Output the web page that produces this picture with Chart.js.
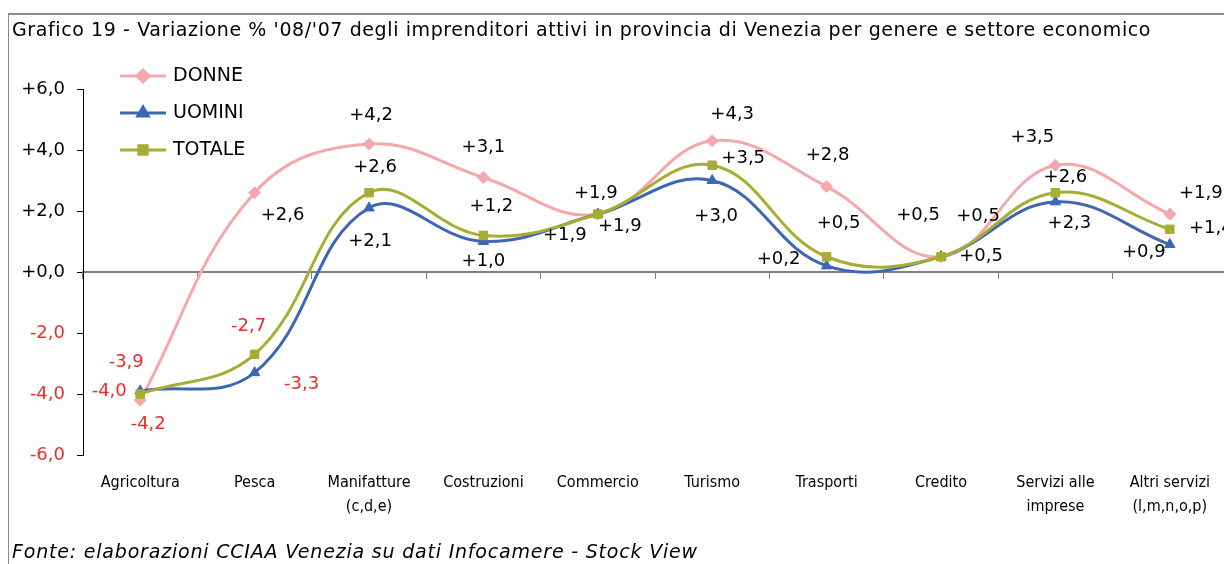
<!DOCTYPE html>
<html>
<head>
<meta charset="utf-8">
<script src="https://cdn.jsdelivr.net/npm/chart.js@4/dist/chart.umd.min.js"></script>
<style>
  html, body { margin: 0; padding: 0; background: #fff; overflow: hidden; }
  #wrap { position: relative; width: 1224px; height: 564px; overflow: hidden; }
  #box { position: absolute; left: 8px; top: 13px; width: 1300px; height: 600px;
         border-left: 1px solid #8a8a8a; border-top: 2px solid #8a8a8a; }
  #titolo { position: absolute; left: 12px; top: 18px; font: 19px "DejaVu Sans", sans-serif; letter-spacing: 0.6px; color: #000; white-space: nowrap; }
  #fonte { position: absolute; left: 12px; top: 540px; font: italic 19px "DejaVu Sans", sans-serif; letter-spacing: 0.8px; color: #000; white-space: nowrap; }
  canvas { position: absolute; left: 0; top: 0; }
</style>
</head>
<body>
<div id="wrap">
  <div id="box"></div>
  <canvas id="grafico" width="1240" height="564"></canvas>
  <div id="titolo">Grafico 19 - Variazione % '08/'07 degli imprenditori attivi in provincia di Venezia per genere e settore economico</div>
  <div id="fonte">Fonte: elaborazioni CCIAA Venezia su dati Infocamere - Stock View</div>
</div>
<script>
// Dati del grafico
const categorie = [['Agricoltura'], ['Pesca'], ['Manifatture', '(c,d,e)'], ['Costruzioni'], ['Commercio'],
  ['Turismo'], ['Trasporti'], ['Credito'], ['Servizi alle', 'imprese'], ['Altri servizi', '(l,m,n,o,p)']];
const donne  = [-4.2,  2.6, 4.2, 3.1, 1.9, 4.3, 2.8, 0.5, 3.5, 1.9];
const uomini = [-3.9, -3.3, 2.1, 1.0, 1.9, 3.0, 0.2, 0.5, 2.3, 0.9];
const totale = [-4.0, -2.7, 2.6, 1.2, 1.9, 3.5, 0.5, 0.5, 2.6, 1.4];
const yMin = -6, yMax = 6, yStep = 2;

// Colori
const rosa = '#f5a8ab', blu = '#3d66b4', oliva = '#a6ad33', rosso = '#ee2b2b';

// spostamento etichette (dx, dy) rispetto al punto
const posDonne  = [[8, 24], [28, 23], [2, -29], [0, -30], [-2, -21], [20, -27], [1, -31], [-23, -41], [-23, -28], [31, -21]];
const posUomini = [[-14, -29], [47, 12], [1, 33], [0, 20], [22, 12], [4, 36], [-48, -7], [40, 0], [14, 21], [-26, 8]];
const posTotale = [[-31, -3], [-6, -28], [6, -25], [8, -29], [-33, 21], [31, -7], [12, -33], [37, -40], [10, -15], [41, -1]];

function fmt(v) {
  return (v >= 0 ? '+' : '') + v.toFixed(1).replace('.', ',');
}

const fontBase = '"DejaVu Sans", sans-serif';

// etichette dei valori
const etichette = {
  id: 'etichette',
  afterDatasetsDraw(chart) {
    const ctx = chart.ctx;
    ctx.save();
    ctx.font = '18px ' + fontBase;
    ctx.textAlign = 'center';
    ctx.textBaseline = 'middle';
    chart.data.datasets.forEach((ds, i) => {
      const meta = chart.getDatasetMeta(i);
      meta.data.forEach((pt, j) => {
        const v = ds.data[j];
        const off = ds.posEtichette[j];
        ctx.fillStyle = v < 0 ? rosso : '#000';
        ctx.fillText(fmt(v), pt.x + off[0], pt.y + off[1]);
      });
    });
    ctx.restore();
  }
};

// legenda in alto a sinistra
const legenda = {
  id: 'legenda',
  afterDraw(chart) {
    const ctx = chart.ctx;
    ctx.save();
    ctx.font = '19px ' + fontBase;
    ctx.textBaseline = 'middle';
    [0, 1, 2].forEach((i) => {
      const ds = chart.data.datasets[i];
      const y = 76 + i * 37;
      ctx.strokeStyle = ds.borderColor;
      ctx.lineWidth = 3;
      ctx.beginPath();
      ctx.moveTo(120, y);
      ctx.lineTo(166, y);
      ctx.stroke();
      Chart.helpers.drawPoint(ctx, {
        pointStyle: ds.pointStyle, radius: ds.pointRadius, rotation: 0, borderWidth: 1
      }, 143, y);
      ctx.fillStyle = ds.backgroundColor;
      ctx.strokeStyle = ds.borderColor;
      ctx.lineWidth = 1;
      ctx.fill();
      ctx.fillStyle = '#000';
      ctx.fillText(ds.label, 173, y);
    });
    ctx.restore();
  }
};

function serie(label, dati, colore, forma, raggio, pos, ordine) {
  return {
    label: label,
    data: dati,
    borderColor: colore,
    backgroundColor: colore,
    borderWidth: 3,
    pointStyle: forma,
    pointRadius: raggio,
    pointBorderWidth: 1,
    tension: 0.4,
    order: ordine,
    posEtichette: pos
  };
}

new Chart(document.getElementById('grafico'), {
  type: 'line',
  data: {
    labels: categorie,
    datasets: [
      serie('DONNE', donne, rosa, 'rectRot', 6, posDonne, 2),
      serie('UOMINI', uomini, blu, 'triangle', 6, posUomini, 1),
      serie('TOTALE', totale, oliva, 'rect', 6, posTotale, 0)
    ]
  },
  options: {
    responsive: false,
    animation: false,
    devicePixelRatio: 1,
    layout: { padding: { left: 0, top: 89, right: 13, bottom: 0 } },
    plugins: {
      legend: { display: false },
      tooltip: { enabled: false },
      title: { display: false }
    },
    scales: {
      x: {
        type: 'category',
        offset: true,
        position: 'bottom',
        border: { display: false },
        grid: { display: false },
        ticks: {
          color: '#000',
          padding: 8,
          maxRotation: 0,
          autoSkip: false,
          font: { family: '"DejaVu Sans Condensed", "DejaVu Sans", sans-serif', size: 16, lineHeight: 1.5 }
        },
        afterFit(scale) { scale.height = 109; }
      },
      x2: {
        type: 'category',
        offset: true,
        position: { y: 0 },
        border: { display: true, color: '#808080', width: 2 },
        grid: { display: true, drawOnChartArea: false, drawTicks: true, tickLength: 6, offset: true, color: '#808080', lineWidth: 1 },
        ticks: { display: false }
      },
      y: {
        min: yMin,
        max: yMax,
        border: { display: true, color: '#000', width: 1 },
        grid: { display: true, drawOnChartArea: false, drawTicks: true, tickLength: 6, tickColor: '#000' },
        ticks: {
          stepSize: yStep,
          padding: 12,
          color: (c) => c.tick.value < 0 ? rosso : '#000',
          font: { family: fontBase, size: 18 },
          callback: (v) => fmt(v)
        },
        afterFit(scale) { scale.width = 83; }
      }
    }
  },
  plugins: [etichette, legenda]
});
</script>
</body>
</html>
